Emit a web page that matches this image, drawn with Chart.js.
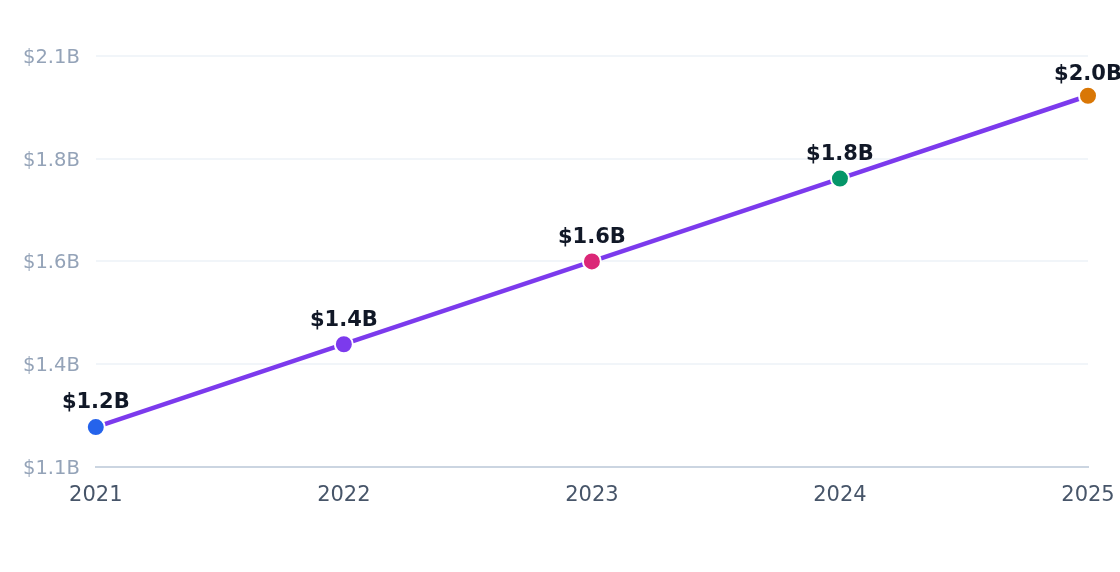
<!DOCTYPE html>
<html>
<head>
<meta charset="utf-8">
<script src="https://cdn.jsdelivr.net/npm/chart.js@4"></script>
<style>
html,body{margin:0;padding:0;background:#fff;}
#wrap{width:1120px;height:572px;}
</style>
</head>
<body>
<div id="wrap"><canvas id="c" width="1120" height="572"></canvas></div>
<script>
const years = ['2021', '2022', '2023', '2024', '2025'];
const revenue = [1.2, 1.4, 1.6, 1.8, 2.0];
const pointColors = ['#2563eb', '#7c3aed', '#db2777', '#059669', '#d97706'];
const yTickLabels = ['$1.1B', '$1.4B', '$1.6B', '$1.8B', '$2.1B'];
const yMin = 1.104, yMax = 2.096, yStep = 0.248;

const valueLabels = {
  id: 'valueLabels',
  afterDatasetsDraw(chart) {
    const ctx = chart.ctx;
    const meta = chart.getDatasetMeta(0);
    const top = chart.chartArea.top;
    ctx.save();
    ctx.font = 'bold 21px "DejaVu Sans"';
    ctx.fillStyle = '#111827';
    ctx.textAlign = 'center';
    ctx.textBaseline = 'middle';
    meta.data.forEach((pt, i) => {
      const y = Math.max(pt.y - 24, top + 19);
      ctx.fillText('$' + revenue[i].toFixed(1) + 'B', pt.x, y);
    });
    ctx.restore();
  }
};

new Chart(document.getElementById('c'), {
  type: 'line',
  data: {
    labels: years,
    datasets: [{
      data: revenue,
      borderColor: '#7c3aed',
      borderWidth: 4.5,
      pointRadius: 9,
      pointHoverRadius: 9,
      pointBackgroundColor: pointColors,
      pointBorderColor: '#ffffff',
      pointBorderWidth: 2,
      tension: 0,
      fill: false,
      clip: false
    }]
  },
  options: {
    responsive: false,
    animation: false,
    devicePixelRatio: 1,
    layout: { padding: { left: 7, right: 32, top: 56, bottom: 56 } },
    plugins: { legend: { display: false }, tooltip: { enabled: false } },
    scales: {
      x: {
        offset: false,
        grid: { display: false },
        border: { display: true, color: '#cbd5e1', width: 2 },
        ticks: { color: '#475569', font: { family: 'DejaVu Sans', size: 21 }, padding: 8 },
        afterFit: (s) => { s.paddingLeft = 0; s.paddingRight = 0; }
      },
      y: {
        min: yMin,
        max: yMax,
        grid: { color: '#f1f5f9', lineWidth: 2, drawTicks: false },
        border: { display: false },
        ticks: {
          stepSize: yStep,
          color: '#94a3b8',
          font: { family: 'DejaVu Sans', size: 19.5 },
          padding: 16,
          labelOffset: 2,
          callback: (v, i) => yTickLabels[i]
        }
      }
    }
  },
  plugins: [valueLabels]
});
</script>
</body>
</html>
